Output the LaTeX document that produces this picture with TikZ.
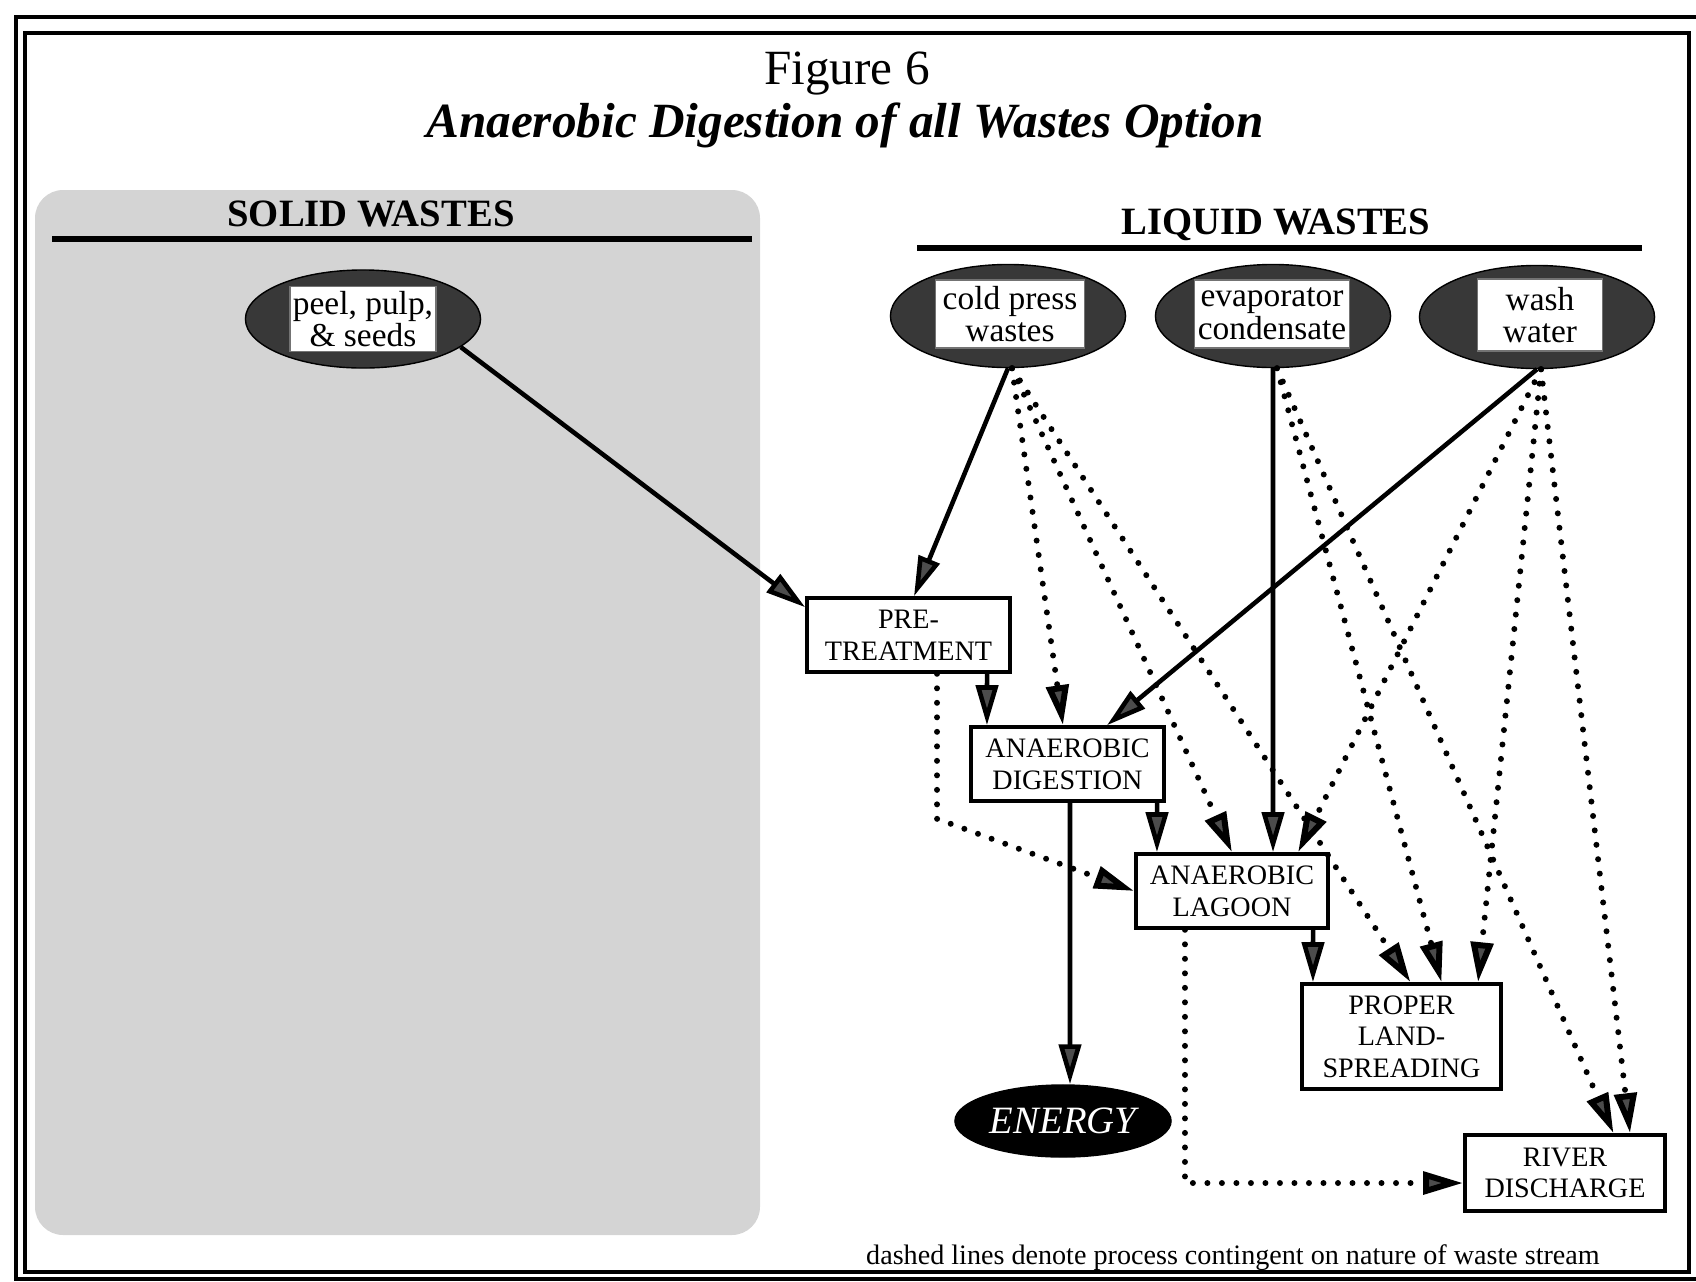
\documentclass[tikz,border=0pt]{standalone}
\usepackage{fontspec}
\setmainfont{Liberation Serif}
\usetikzlibrary{arrows.meta,shapes.geometric}
\tikzset{
  frame/.style={
    draw=black,
    line width=1.1pt
  },
  panel/.style={
    fill=black!17,
    rounded corners=8pt
  },
  heading/.style={
    font=\fontsize{11}{13}\selectfont\bfseries
  },
  headrule/.style={
    line width=1.7pt
  },
  source/.style={
    ellipse,
    draw=black,
    fill=black!78,
    minimum width=2.35cm,
    minimum height=1.03cm,
    inner sep=0pt
  },
  sourcetext/.style={
    rectangle,
    draw=black!55,
    fill=white,
    align=center,
    minimum height=0.68cm,
    inner sep=0pt,
    font=\fontsize{9.5}{9.3}\selectfont
  },
  process/.style={
    rectangle,
    draw=black,
    fill=white,
    line width=1pt,
    align=center,
    minimum height=0.74cm,
    inner sep=0pt,
    font=\fontsize{8}{9}\selectfont
  },
  product/.style={
    ellipse,
    draw=black,
    fill=black,
    text=white,
    minimum width=2.16cm,
    minimum height=0.72cm,
    inner sep=0pt,
    font=\fontsize{11}{13}\selectfont\itshape
  },
  connection/.style={
    line width=1.3pt,
    -{Triangle[length=4mm,width=2.2mm,fill=black!70]}
  },
  contingent/.style={
    line width=1.7pt,
    line cap=round,
    dash pattern=on 0pt off 1.45mm,
    -{Triangle[length=4mm,width=2.2mm,fill=black!70]}
  }
}

\begin{document}
\begin{tikzpicture}[x=0.01cm, y=-0.01cm]
  \useasboundingbox (0,0) rectangle (1696,1281);

  % double frame
  \draw[frame] (16,17) rectangle (1710,1279);
  \draw[frame] (25,33) rectangle (1689,1272);

  % title
  \node[font=\fontsize{14}{16}\selectfont] (fig) at (847,74) {Figure 6};
  \node[font=\fontsize{14}{16}\selectfont\bfseries\itshape] (title) at (845,125)
    {Anaerobic Digestion of all Wastes Option};

  % solid wastes side
  \fill[panel] (35,190) rectangle (760,1235);
  \node[heading] (solid) at (371,214) {SOLID WASTES};
  \draw[headrule] (52,239) -- (752,239);
  \node[source, minimum height=0.98cm] (peel) at (363,319) {};
  \node[sourcetext, minimum width=1.46cm, minimum height=0.65cm] (peel-t) at (peel)
    {peel, pulp,\\\& seeds};

  % liquid wastes side
  \node[heading] (liquid) at (1276,225) {LIQUID WASTES};
  \draw[headrule] (917,248) -- (1642,248);
  \node[source] (cold) at (1008,316) {};
  \node[sourcetext, minimum width=1.49cm] (cold-t) at (1010,314) {cold press\\wastes};
  \node[source] (evap) at (1273,316) {};
  \node[sourcetext, minimum width=1.55cm] (evap-t) at (1272,314) {evaporator\\condensate};
  \node[source] (wash) at (1537,317) {};
  \node[sourcetext, minimum width=1.25cm, minimum height=0.72cm] (wash-t) at (1540,315)
    {wash\\water};

  % processes
  \node[process, minimum width=2.03cm] (pre) at (908.5,635) {PRE-\\TREATMENT};
  \node[process, minimum width=1.93cm] (dig) at (1067.5,764) {ANAEROBIC\\DIGESTION};
  \node[process, minimum width=1.92cm] (lag) at (1232,891) {ANAEROBIC\\LAGOON};
  \node[process, minimum width=1.99cm, minimum height=1.05cm] (land) at (1401.5,1036.5)
    {PROPER\\LAND-\\SPREADING};
  \node[process, minimum width=2.0cm, minimum height=0.76cm] (river) at (1565,1173)
    {RIVER\\DISCHARGE};
  \node[product] (energy) at (1063,1121) {ENERGY};

  % firm flows
  \draw[connection] (peel.-16) -- ([yshift=-0.11cm]pre.north west);
  \draw[connection] (cold.south) -- ([xshift=0.055cm]pre.north);
  \draw[connection] ([xshift=0.785cm]pre.south) -- ([xshift=-0.805cm]dig.north);
  \draw[connection] (wash.south) -- ([xshift=0.395cm]dig.north);
  \draw[connection] (evap.south) -- ([xshift=0.41cm]lag.north);
  \draw[connection] ([xshift=0.895cm]dig.south) -- ([xshift=-0.75cm]lag.north);
  \draw[connection] ([xshift=0.025cm]dig.south) -- ([xshift=0.07cm]energy.north);
  \draw[connection] ([xshift=0.81cm]lag.south) -- ([xshift=-0.885cm]land.north);

  % contingent flows
  \draw[contingent] ([xshift=0.04cm]cold.south) -- ([xshift=-0.045cm]dig.north);
  \draw[contingent] ([xshift=0.04cm]cold.south) -- (lag.north);
  \draw[contingent] ([xshift=0.04cm]cold.south) -- ([xshift=0.09cm]land.north);
  \draw[contingent] ([xshift=0.04cm]evap.south) -- ([xshift=0.4cm]land.north);
  \draw[contingent] ([xshift=0.04cm]evap.south) -- ([xshift=0.485cm]river.north);
  \draw[contingent] ([xshift=0.04cm]wash.south) -- ([xshift=0.66cm]lag.north);
  \draw[contingent] ([xshift=0.04cm]wash.south) -- ([xshift=0.765cm]land.north);
  \draw[contingent] ([xshift=0.04cm]wash.south) -- ([xshift=0.65cm]river.north);
  \draw[contingent] ([xshift=0.285cm]pre.south) -- ++(0,145) -- (lag.west);
  \draw[contingent] ([xshift=-0.47cm]lag.south) |- ([yshift=-0.1cm]river.west);

  % note
  \node[font=\fontsize{8}{10}\selectfont] (note) at (1233,1258)
    {dashed lines denote process contingent on nature of waste stream};
\end{tikzpicture}
\end{document}
